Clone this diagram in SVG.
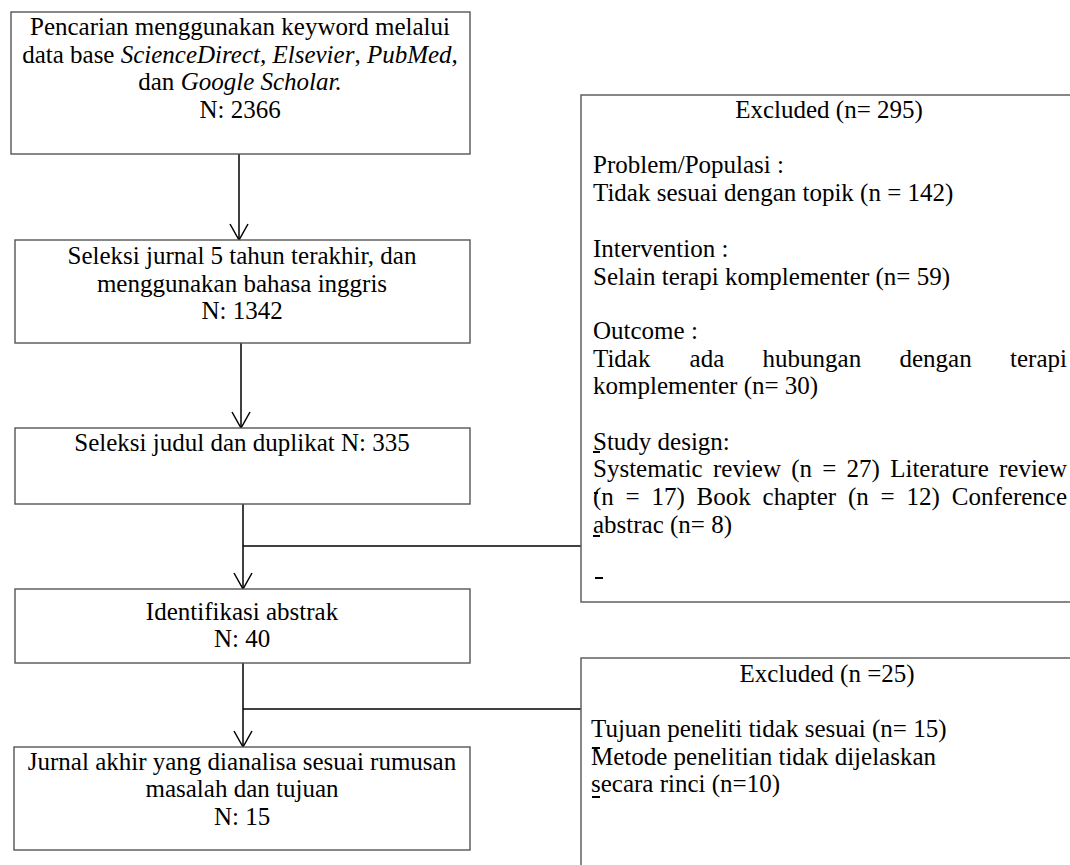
<svg xmlns="http://www.w3.org/2000/svg" width="1070" height="865" viewBox="0 0 1070 865">
<style>
.box{fill:#fff;stroke:#555;stroke-width:1.4}
.t{font-family:"Liberation Serif","Times New Roman",serif;font-size:25px;fill:#000}
.c{text-anchor:middle}
.e{text-anchor:end}
.conn line{stroke:#000;stroke-width:1.5}
.mk{stroke:#000;stroke-width:2}
</style>
<defs>
<marker id="arr" markerUnits="userSpaceOnUse" viewBox="0 0 20 20" markerWidth="20" markerHeight="20" refX="18" refY="10" orient="auto">
<path d="M2,1 L18,10 L2,19" fill="none" stroke="#000" stroke-width="1.5"/>
</marker>
</defs>
<rect width="1070" height="865" fill="#fff"/>
<g id="conn" class="conn">
<line x1="239" y1="154" x2="239" y2="240" marker-end="url(#arr)"/>
<line x1="241" y1="343" x2="241" y2="428" marker-end="url(#arr)"/>
<line x1="243" y1="504" x2="243" y2="589" marker-end="url(#arr)"/>
<line x1="243" y1="546" x2="581" y2="546"/>
<line x1="243" y1="663" x2="243" y2="747" marker-end="url(#arr)"/>
<line x1="243" y1="709" x2="581" y2="709"/>
</g>
<g id="n1">
<rect class="box" x="11" y="12" width="459" height="142"/>
<text class="t c" x="240" y="35">Pencarian menggunakan keyword melalui</text>
<text class="t c" x="240" y="63">data base <tspan font-style="italic">ScienceDirect,</tspan> <tspan font-style="italic">Elsevier</tspan>, <tspan font-style="italic">PubMed,</tspan></text>
<text class="t c" x="240" y="90">dan <tspan font-style="italic">Google Scholar.</tspan></text>
<text class="t c" x="240" y="118">N: 2366</text>
</g>
<g id="n2">
<rect class="box" x="15" y="240" width="455" height="103"/>
<text class="t c" x="242" y="264">Seleksi jurnal 5 tahun terakhir, dan</text>
<text class="t c" x="242" y="292">menggunakan bahasa inggris</text>
<text class="t c" x="242" y="319">N: 1342</text>
</g>
<g id="n3">
<rect class="box" x="15" y="428" width="455" height="76"/>
<text class="t c" x="242" y="451">Seleksi judul dan duplikat N: 335</text>
</g>
<g id="n4">
<rect class="box" x="15" y="589" width="455" height="74"/>
<text class="t c" x="242" y="620">Identifikasi abstrak</text>
<text class="t c" x="242" y="647">N: 40</text>
</g>
<g id="n5">
<rect class="box" x="14" y="747" width="456" height="103"/>
<text class="t c" x="242" y="770">Jurnal akhir yang dianalisa sesuai rumusan</text>
<text class="t c" x="242" y="797">masalah dan tujuan</text>
<text class="t c" x="242" y="825">N: 15</text>
</g>
<g id="ex1">
<rect class="box" x="581" y="95" width="520" height="507"/>
<text class="t c" x="829" y="118">Excluded (n= 295)</text>
<text class="t" x="593" y="173">Problem/Populasi :</text>
<text class="t" x="593" y="201">Tidak sesuai dengan topik (n = 142)</text>
<text class="t" x="593" y="257">Intervention :</text>
<text class="t" x="593" y="285">Selain terapi komplementer (n= 59)</text>
<text class="t" x="593" y="339">Outcome :</text>
<text class="t" x="593" y="367">Tidak</text>
<text class="t" x="689.6" y="367">ada</text>
<text class="t" x="762.6" y="367">hubungan</text>
<text class="t" x="899.5" y="367">dengan</text>
<text class="t e" x="1067" y="367">terapi</text>
<text class="t" x="593" y="394">komplementer (n= 30)</text>
<text class="t" x="593" y="450">Study design:</text>
<text class="t" x="593" y="477">Systematic</text>
<text class="t" x="713" y="477">review</text>
<text class="t" x="791.2" y="477">(n</text>
<text class="t" x="822.3" y="477">=</text>
<text class="t" x="846.6" y="477">27)</text>
<text class="t" x="890.2" y="477">Literature</text>
<text class="t e" x="1067" y="477">review</text>
<text class="t" x="593" y="505">(n</text>
<text class="t" x="625.6" y="505">=</text>
<text class="t" x="651.5" y="505">17)</text>
<text class="t" x="696.6" y="505">Book</text>
<text class="t" x="762.6" y="505">chapter</text>
<text class="t" x="848" y="505">(n</text>
<text class="t" x="880.6" y="505">=</text>
<text class="t" x="906.5" y="505">12)</text>
<text class="t e" x="1067" y="505">Conference</text>
<text class="t" x="593" y="533">abstrac (n= 8)</text>
<line class="mk" x1="593" y1="452" x2="600" y2="452"/>
<line class="mk" x1="594" y1="493" x2="598" y2="493"/>
<line class="mk" x1="593" y1="536" x2="600" y2="536"/>
<line class="mk" x1="595" y1="578" x2="603" y2="578"/>
</g>
<g id="ex2">
<rect class="box" x="581" y="658" width="520" height="230"/>
<text class="t c" x="827" y="682">Excluded (n =25)</text>
<text class="t" x="591" y="737">Tujuan peneliti tidak sesuai (n= 15)</text>
<text class="t" x="591" y="765">Metode penelitian tidak dijelaskan</text>
<text class="t" x="591" y="792">secara rinci (n=10)</text>
<line class="mk" x1="592" y1="748" x2="600" y2="748"/>
<line class="mk" x1="592" y1="797" x2="600" y2="797"/>
</g>
</svg>
